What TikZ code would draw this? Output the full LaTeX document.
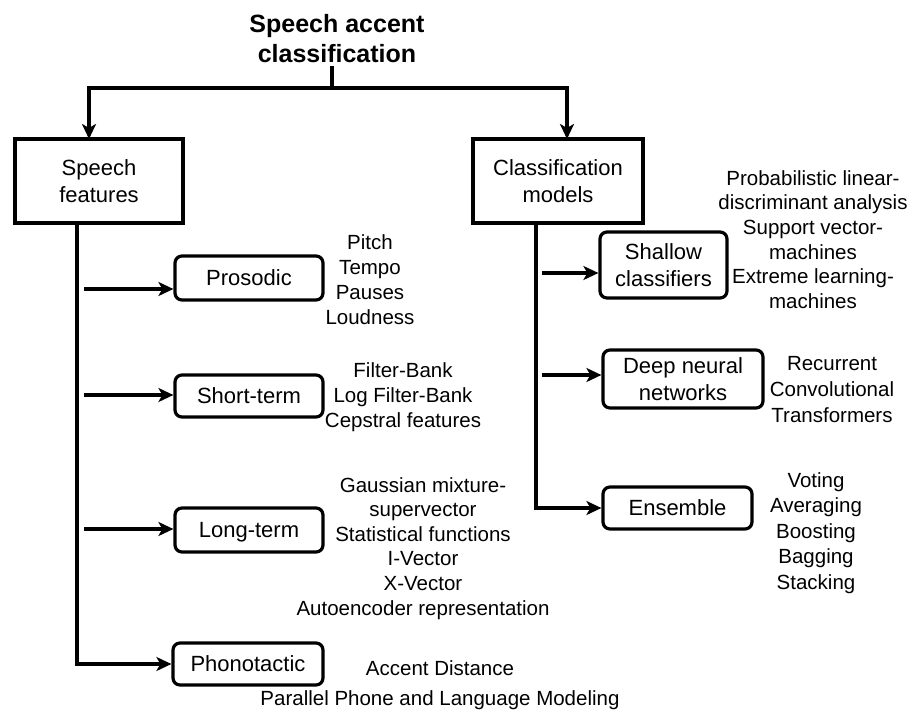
\documentclass[tikz,border=0pt]{standalone}
\usepackage{fontspec}
\setmainfont{Liberation Sans}
\usetikzlibrary{arrows.meta}
\begin{document}
\begin{tikzpicture}[x=1pt,y=-1pt,
  conn/.style={line width=3.2pt},
  arr/.style={line width=3.2pt,-{Stealth[length=15pt,width=14pt,inset=4pt]}},
  sqbox/.style={draw,line width=3.4pt,inner sep=0pt,font=\fontsize{22}{27.5}\selectfont,align=center},
  rbox/.style={draw,line width=3.2pt,rounded corners=7pt,inner sep=0pt,font=\fontsize{22}{27.5}\selectfont,align=center},
  one/.style={text height=15.8pt,text depth=0pt},
  lst/.style={align=center,anchor=base,inner sep=0pt},
]
\useasboundingbox (0,0) rectangle (915,715);
\fill[white] (0,0) rectangle (915,715);

% anchor=base of a multi-line node is the baseline of its last line
\node[font=\bfseries\fontsize{25}{30}\selectfont,align=center,anchor=base,inner sep=0pt] (title) at (337,62) {Speech accent\\classification};

\node[sqbox,minimum width=168,minimum height=84] (sf) at (99,181) {Speech\\features};
\node[sqbox,minimum width=170,minimum height=84] (cm) at (558,181) {Classification\\models};

\node[rbox,one,minimum width=148,minimum height=44] (pros) at (249,278) {Prosodic};
\node[rbox,one,minimum width=148,minimum height=42] (st) at (249,396) {Short-term};
\node[rbox,one,minimum width=148,minimum height=44] (lt) at (249,530) {Long-term};
\node[rbox,one,minimum width=150,minimum height=42] (ph) at (248,664) {Phonotactic};
\node[rbox,minimum width=127,minimum height=66] (sh) at (663.5,265) {Shallow\\classifiers};
\node[rbox,minimum width=160,minimum height=58] (dnn) at (683,379) {Deep neural\\networks};
\node[rbox,one,minimum width=149,minimum height=42] (ens) at (677.5,508) {Ensemble};

\node[lst,font=\fontsize{20.5}{25}\selectfont] (prosl) at (370,324) {Pitch\\Tempo\\Pauses\\Loudness};
\node[lst,font=\fontsize{20.5}{25}\selectfont] (stl) at (403,427) {Filter-Bank\\Log Filter-Bank\\Cepstral features};
\node[lst,font=\fontsize{20.5}{24.6}\selectfont] (ltl) at (423,615) {Gaussian mixture-\\supervector\\Statistical functions\\I-Vector\\X-Vector\\Autoencoder representation};
\node[lst,font=\fontsize{20.5}{30}\selectfont] (phl) at (440,705) {Accent Distance\\Parallel Phone and Language Modeling};
\node[lst,font=\fontsize{20.5}{24.7}\selectfont] (shl) at (813,308.5) {Probabilistic linear-\\discriminant analysis\\Support vector-\\machines\\Extreme learning-\\machines};
\node[lst,font=\fontsize{20.5}{26}\selectfont] (dnl) at (832,422) {Recurrent\\Convolutional\\Transformers};
\node[lst,font=\fontsize{20.5}{25.5}\selectfont] (enl) at (816,589) {Voting\\Averaging\\Boosting\\Bagging\\Stacking};

\coordinate (tstem) at (332,66);
\coordinate (tj) at (332,88);
\coordinate (sfin) at (89,139);
\coordinate (cmin) at (567,139);
\draw[conn] (tstem) -- (tj);
\draw[arr] (tj) -| (sfin);
\draw[arr] (tj) -| (cmin);

\coordinate (l0) at (77,223);
\draw[arr] (l0) |- (ph.west);
\coordinate (a1) at (84,289);
\coordinate (a2) at (84,395);
\coordinate (a3) at (84,529);
\draw[arr] (a1) -- (a1 -| pros.west);
\draw[arr] (a2) -- (a2 -| st.west);
\draw[arr] (a3) -- (a3 -| lt.west);

\coordinate (r0) at (536,223);
\draw[arr] (r0) |- (ens.west);
\coordinate (b1) at (542,273);
\coordinate (b2) at (542,375);
\draw[arr] (b1) -- (b1 -| sh.west);
\draw[arr] (b2) -- (b2 -| dnn.west);
\end{tikzpicture}
\end{document}
